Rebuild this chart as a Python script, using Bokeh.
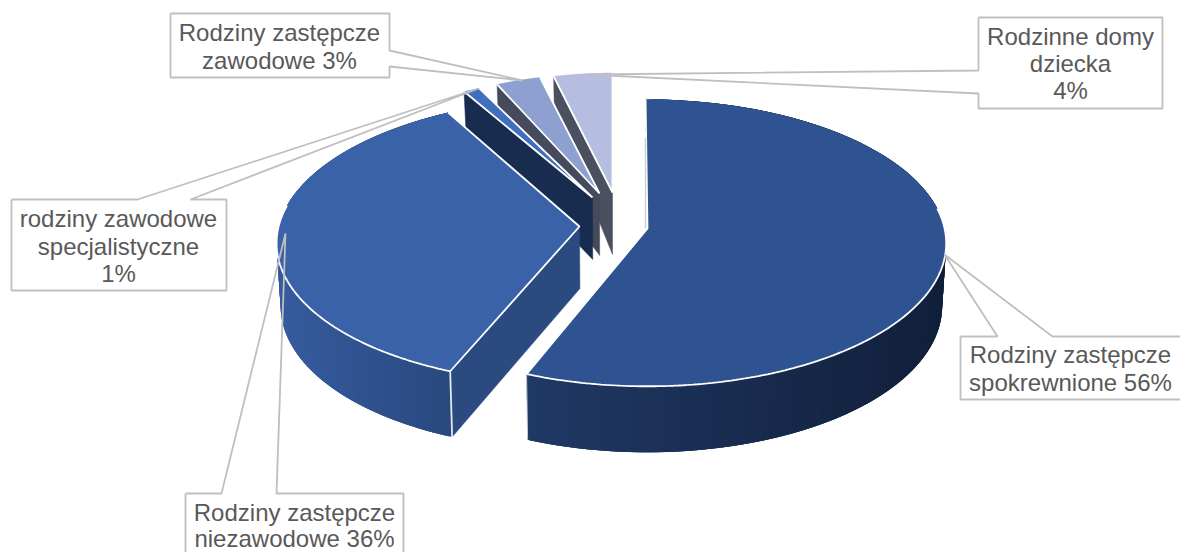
import numpy as np
from bokeh.plotting import figure
from bokeh.core.properties import value
from bokeh.embed import file_html
from bokeh.resources import INLINE

# --- data
categories = ["Rodziny zastępcze spokrewnione", "Rodziny zastępcze niezawodowe",
              "rodziny zawodowe specjalistyczne", "Rodziny zastępcze zawodowe",
              "Rodzinne domy dziecka"]
shares = [56, 36, 1, 3, 4]
label_lines = [["Rodziny zastępcze", "spokrewnione 56%"],
               ["Rodziny zastępcze", "niezawodowe 36%"],
               ["rodziny zawodowe", "specjalistyczne", "1%"],
               ["Rodziny zastępcze", "zawodowe 3%"],
               ["Rodzinne domy", "dziecka", "4%"]]

# --- styles / layout (screen pixels of the page)
top_colors = ["#2F5391", "#3A62A8", "#3F6FBD", "#8E9FD1", "#B5BEE0"]
face_colors = [None, "#2A4A80", "#182C50", "#454A5C", "#4A5060"]
rim_left = [(32, 57, 101), (54, 92, 158), None, None, None]
rim_right = [(17, 31, 58), (41, 72, 126), None, None, None]
apex_x = [647, 579, 592, 599, 612]
apex_y = [228, 226, 197, 193, 192]
persp_off = [0.0, 0.05, 0.86, 0.86, 0.86]
x_scale = [1.0, 1.0, 1.05, 0.95, 0.94]
skew = [(-1.0, -0.93), (5.0, 0.876), (0.0, 0.0), (0.0, 0.0), (0.0, 0.0)]
R, RC, K = 298.0, 142.0, 0.10
CX = 613.0

boxes = [  # x0, y0, x1, y1, tail start a, tail start b, tip
    (960, 336, 1190, 399, (997, 336), (1052, 336), (944, 254)),
    (185, 493, 403, 570, (221, 493), (276, 493), (285, 233)),
    (11, 199, 226, 290, (137, 199), (190, 199), (478, 88)),
    (170, 13, 389, 77, (389, 50), (389, 66), (522, 80)),
    (978, 17, 1162, 108, (978, 70), (978, 93), (585, 74)),
]
text_x = [1070, 294, 118, 279, 1070]
text_y = [[354, 382], [512, 538], [218, 246, 273], [32, 60], [36, 63, 90]]


def project(i, a):
    X, Y = np.sin(a), np.cos(a)
    f = 1.0 / (1.0 + K * (Y + persp_off[i]))
    s, y0 = skew[i]
    return apex_x[i] + x_scale[i] * R * X * f + s * (Y - y0), apex_y[i] - RC * Y * f, Y


def drop(x, y, Y):
    d = np.interp(Y, [-1.0, 0.1, 1.0], [66.0, 62.0, 33.0])
    return x + 0.012 * (CX - x), y + d


p = figure(width=1180, height=552, x_range=(0, 1180), y_range=(552, 0),
           output_backend="svg", toolbar_location=None, min_border=0)
p.axis.visible = False
p.grid.visible = False
p.outline_line_color = None
p.background_fill_color = "white"

edges = np.concatenate([[0.0], np.cumsum(shares)]) / sum(shares) * 2 * np.pi


def rgb(c):
    return "#%02X%02X%02X" % tuple(int(round(v)) for v in c)


def draw_slice(i):
    a0, a1 = edges[i], edges[i + 1]
    ax, ay = apex_x[i], apex_y[i]
    aa = np.linspace(a0, a1, 240)
    sx, sy, Y = project(i, aa)
    bx, by = drop(sx, sy, Y)
    apx, apy = drop(float(ax), float(ay), 0.1)
    # flat side faces
    if i >= 1:
        p.patch([ax, sx[0], bx[0], apx], [ay, sy[0], by[0], apy],
                fill_color=face_colors[i], line_color=face_colors[i], line_width=0.5)
    # curved outer wall, shaded along x; overlapping strips leave no seams
    if rim_left[i] is not None:
        xs, ys, cols = [], [], []
        x_lo, x_hi = (527, 946) if i == 0 else (284, 450)
        for j in range(len(aa) - 1):
            k = min(j + 3, len(aa) - 1)
            xs.append([sx[j], sx[k], bx[k], bx[j]])
            ys.append([sy[j], sy[k], by[k], by[j]])
            t = np.clip(((sx[j] + sx[j + 1]) / 2 - x_lo) / (x_hi - x_lo), 0, 1)
            cols.append(rgb(np.array(rim_left[i]) * (1 - t) + np.array(rim_right[i]) * t))
        p.patches(xs, ys, fill_color=cols, line_color=None)
    # top face
    tx = np.concatenate([[ax], sx])
    ty = np.concatenate([[ay], sy])
    p.patch(tx, ty, fill_color=top_colors[i], line_color=None)
    # white bevel on the visible inner edges and the front rim
    p.line([sx[-1], ax, sx[0]], [sy[-1], ay, sy[0]], line_color="white", line_width=1.8)
    if i <= 1:
        front = Y < 0.15
        p.line(sx[front], sy[front], line_color="white", line_width=1.8)
    if i == 1:
        p.line([sx[0], bx[0]], [sy[0], by[0]], line_color="#E4E8F0", line_width=1.8)
    if i == 0:
        p.line([sx[-1], bx[-1]], [sy[-1], by[-1]], line_color="#C8D0DC", line_width=1.0)
        p.line([ax - 2, ax - 2], [sy[0] + 38, ay], line_color="#C9CED8", line_width=1.4)


for i in [4, 3, 2, 1, 0]:
    draw_slice(i)

# call-outs
for i, (x0, y0, x1, y1, t0, t1, tip) in enumerate(boxes):
    if t0[1] == y0:      # tail on the top side
        px = [x0, t0[0], tip[0], t1[0], x1, x1, x0, x0]
        py = [y0, y0, tip[1], y0, y0, y1, y1, y0]
    elif t0[0] == x1:    # tail on the right side
        px = [x0, x1, x1, tip[0], x1, x1, x0, x0]
        py = [y0, y0, t0[1], tip[1], t1[1], y1, y1, y0]
    else:                # tail on the left side
        px = [x0, x1, x1, x0, x0, tip[0], x0, x0]
        py = [y0, y0, y1, y1, t1[1], tip[1], t0[1], y0]
    p.line(px, py, line_color="#BFBFBF", line_width=1.8)
    for line, ty in zip(label_lines[i], text_y[i]):
        p.text([text_x[i]], [ty], text=[line], text_align="center", text_baseline="middle",
               text_font=value("Liberation Sans"), text_font_size="24px", text_color="#595959")

open("out.html", "w").write(file_html(p, INLINE))
